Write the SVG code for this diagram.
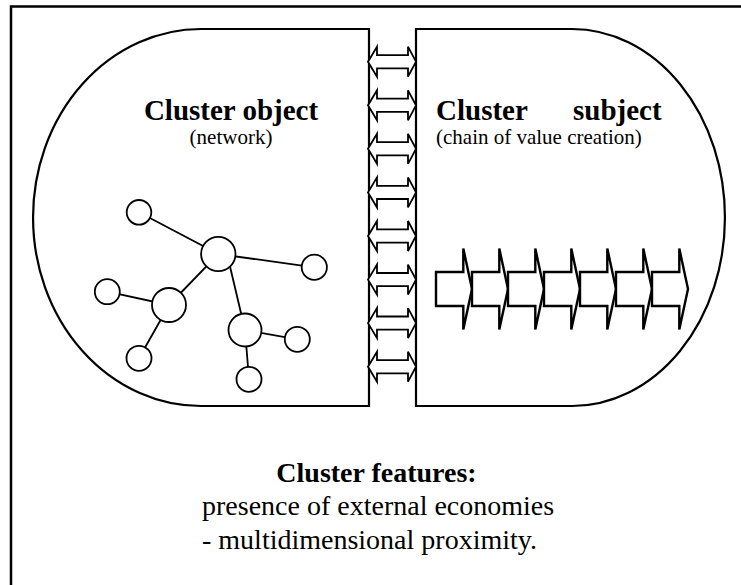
<svg xmlns="http://www.w3.org/2000/svg" xmlns:xlink="http://www.w3.org/1999/xlink" width="741" height="585" viewBox="0 0 741 585">
<style>
.frame{fill:none;stroke:#000;stroke-width:2.5}
.shape{fill:#fff;stroke:#000;stroke-width:2.2}
.edge{stroke:#000;stroke-width:1.8;fill:none}
.node{fill:#fff;stroke:#000;stroke-width:1.8}
.dbl{fill:#fff;stroke:#000;stroke-width:1.8;stroke-linejoin:miter}
.chain{fill:#fff;stroke:#000;stroke-width:2.4;stroke-linejoin:miter}
.t{font-family:"Liberation Serif","Times New Roman",serif;fill:#000}
.h{font-size:29px;font-weight:bold}
.s{font-size:21px}
.b{font-size:28px}
</style>
<defs>
<path id="dblArrow" class="dbl" d="M368,0 L377,-15 L377,-6.6 L408,-6.6 L408,-15 L416,0 L408,15 L408,6.6 L377,6.6 L377,15 Z"/>
<path id="chainArrow" class="chain" d="M0,-17 L27.3,-17 L27.3,-40.5 L36,0 L27.3,40.5 L27.3,17 L0,17 Z"/>
</defs>
<rect class="frame" x="11" y="6.5" width="760" height="620"/>
<g id="cluster-object">
<path class="shape" d="M201,29 L369,29 L369,406 L201,406 A168,188.5 0 0 1 201,29 Z"/>
<text class="t h" x="231" y="120" text-anchor="middle">Cluster object</text>
<text class="t s" x="231" y="144" text-anchor="middle">(network)</text>
</g>
<g id="cluster-subject">
<path class="shape" d="M416,29 L572,29 A153,188.5 0 0 1 572,406 L416,406 Z"/>
<text class="t h" y="120"><tspan x="436">Cluster</tspan><tspan x="573">subject</tspan></text>
<text class="t s" x="436" y="144">(chain of value creation)</text>
</g>
<g id="connectors">
<use xlink:href="#dblArrow" transform="translate(0,61.7)"/>
<use xlink:href="#dblArrow" transform="translate(0,105.3)"/>
<use xlink:href="#dblArrow" transform="translate(0,148.8)"/>
<use xlink:href="#dblArrow" transform="translate(0,192.4)"/>
<use xlink:href="#dblArrow" transform="translate(0,236)"/>
<use xlink:href="#dblArrow" transform="translate(0,279.6)"/>
<use xlink:href="#dblArrow" transform="translate(0,323.1)"/>
<use xlink:href="#dblArrow" transform="translate(0,366.7)"/>
<line class="edge" x1="139" y1="212.3" x2="218.3" y2="254"/>
<line class="edge" x1="218.3" y1="254" x2="314.3" y2="267.3"/>
<line class="edge" x1="218.3" y1="254" x2="169" y2="305"/>
<line class="edge" x1="228" y1="258" x2="245" y2="330"/>
<line class="edge" x1="107.3" y1="291.7" x2="169" y2="305"/>
<line class="edge" x1="169" y1="305" x2="139" y2="358.3"/>
<line class="edge" x1="245" y1="330" x2="297.3" y2="339.3"/>
<line class="edge" x1="245" y1="330" x2="249" y2="379.3"/>
</g>
<g id="network">
<circle id="n1" class="node" cx="139" cy="212.3" r="12.3"/>
<circle id="n2" class="node" cx="218.3" cy="254" r="17.2"/>
<circle id="n3" class="node" cx="314.3" cy="267.3" r="12.6"/>
<circle id="n4" class="node" cx="107.3" cy="291.7" r="12.5"/>
<circle id="n5" class="node" cx="169" cy="305" r="17"/>
<circle id="n6" class="node" cx="245" cy="330" r="16.5"/>
<circle id="n7" class="node" cx="297.3" cy="339.3" r="12.5"/>
<circle id="n8" class="node" cx="139" cy="358.3" r="12.5"/>
<circle id="n9" class="node" cx="249" cy="379.3" r="12.5"/>
</g>
<g id="value-chain">
<use xlink:href="#chainArrow" transform="translate(436,289)"/>
<use xlink:href="#chainArrow" transform="translate(472,289)"/>
<use xlink:href="#chainArrow" transform="translate(508,289)"/>
<use xlink:href="#chainArrow" transform="translate(544,289)"/>
<use xlink:href="#chainArrow" transform="translate(580,289)"/>
<use xlink:href="#chainArrow" transform="translate(616,289)"/>
<use xlink:href="#chainArrow" transform="translate(652,289)"/>
</g>
<g id="features">
<text class="t b" x="376.5" y="482" text-anchor="middle" font-weight="bold">Cluster features:</text>
<text class="t b" x="202" y="515">presence of external economies</text>
<text class="t b" x="202" y="549">- multidimensional proximity.</text>
</g>
</svg>
